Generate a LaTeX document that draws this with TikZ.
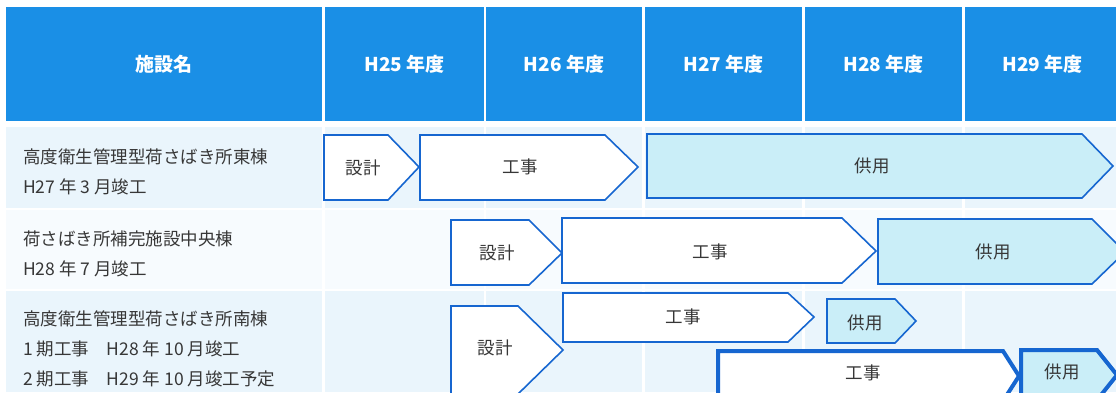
\documentclass[tikz,border=0pt]{standalone}
\usepackage{fontspec}
\setmainfont{Noto Sans CJK JP}

\definecolor{azulcab}{RGB}{26,143,230}
\definecolor{azulborde}{RGB}{22,102,208}
\definecolor{celeste}{RGB}{202,238,248}
\definecolor{tinte}{RGB}{234,245,252}
\definecolor{tintesuave}{RGB}{247,251,254}
\definecolor{texto}{RGB}{55,55,55}

\tikzset{
  fase/.style={draw=azulborde, line width=1.6pt, fill=white, line join=miter},
  uso/.style={fase, fill=celeste},
  gruesa/.style={line width=4pt},
  etiqueta/.style={font=\fontsize{17.5}{20}\selectfont, text=texto},
  cabecera/.style={font=\bfseries\fontsize{19}{22}\selectfont, text=white},
  nombre/.style={font=\fontsize{17.5}{30}\selectfont, text=texto, align=left, anchor=west, inner sep=0pt}
}

\begin{document}
\begin{tikzpicture}[x=1pt,y=-1pt]
    \useasboundingbox (0,0) rectangle (1116,392);
    \clip (0,0) rectangle (1116,392);

    % Fondo de las filas
    \foreach \l/\r in {6/322,325/484,486/642,645/802,805/962,965/1120} {
        \fill[tinte] (\l,127) rectangle (\r,208);
        \fill[tintesuave] (\l,210) rectangle (\r,289);
        \fill[tinte] (\l,291) rectangle (\r,392);
    }

    % Cabecera
    \fill[azulcab] (6,7) rectangle (322,121);
    \node[cabecera] (hnombre) at (164,64) {施設名};
    \foreach \l/\r/\t in {325/484/25,486/642/26,645/802/27,805/962/28,965/1120/29} {
        \fill[azulcab] (\l,7) rectangle (\r,121);
        \node[cabecera] (h\t) at ({(\l+\r)/2},64) {H\t{} 年度};
    }

    % Nombres de los edificios
    \node[nombre] (edif1) at (23,172) {高度衛生管理型荷さばき所東棟\\H27 年 3 月竣工};
    \node[nombre] (edif2) at (23,254) {荷さばき所補完施設中央棟\\H28 年 7 月竣工};
    \node[nombre] (edif3) at (23,349) {高度衛生管理型荷さばき所南棟\\1 期工事　H28 年 10 月竣工\\2 期工事　H29 年 10 月竣工予定};

    % Fila 1
    \draw[fase] (324,135) -- (388,135) -- (419,167) -- (388,200) -- (324,200) -- cycle;
    \draw[fase] (420,135) -- (605,135) -- (638,167) -- (605,200) -- (420,200) -- cycle;
    \draw[uso] (647,134) -- (1082,134) -- (1113,166) -- (1082,198) -- (647,198) -- cycle;
    \node[etiqueta] (diseno1) at (363,168) {設計};
    \node[etiqueta] (obra1) at (520,167) {工事};
    \node[etiqueta] (uso1) at (872,166) {供用};

    % Fila 2
    \draw[fase] (451,220) -- (529,220) -- (562,253) -- (529,285) -- (451,285) -- cycle;
    \draw[fase] (562,218) -- (842,218) -- (876,251) -- (842,283) -- (562,283) -- cycle;
    \draw[uso] (878,219) -- (1092,219) -- (1125,252) -- (1092,284) -- (878,284) -- cycle;
    \node[etiqueta] (diseno2) at (497,253) {設計};
    \node[etiqueta] (obra2) at (710,252) {工事};
    \node[etiqueta] (uso2) at (993,252) {供用};

    % Fila 3
    \draw[fase] (451,306) -- (518,306) -- (563,350) -- (518,394) -- (451,394) -- cycle;
    \draw[fase] (563,293) -- (788,293) -- (814,317) -- (788,342) -- (563,342) -- cycle;
    \draw[uso] (827,299) -- (895,299) -- (916,321) -- (895,343) -- (827,343) -- cycle;
    \draw[fase,gruesa] (718,351) -- (1003,351) -- (1019,376) -- (1003,401) -- (718,401) -- cycle;
    \draw[uso,gruesa] (1021,350) -- (1097,350) -- (1117,375) -- (1097,400) -- (1021,400) -- cycle;
    \node[etiqueta] (diseno3) at (495,348) {設計};
    \node[etiqueta] (obra3) at (683,317) {工事};
    \node[etiqueta] (uso3) at (865,323) {供用};
    \node[etiqueta] (obra4) at (863,373) {工事};
    \node[etiqueta] (uso4) at (1062,372) {供用};
\end{tikzpicture}
\end{document}
